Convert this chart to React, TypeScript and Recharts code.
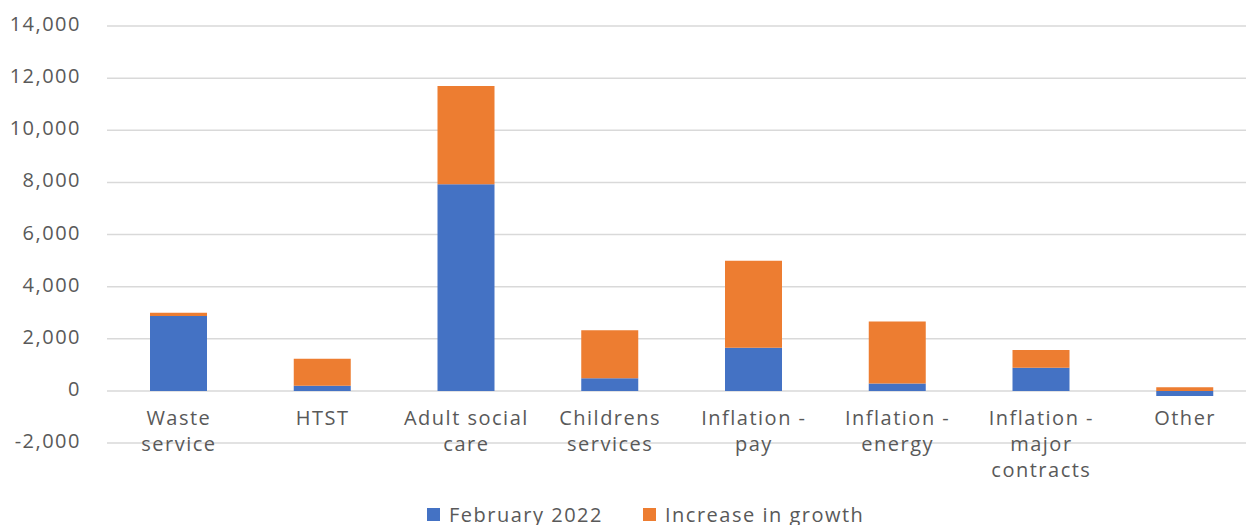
import { BarChart, Bar, XAxis, YAxis, CartesianGrid, Legend } from "recharts";

const categories = [
  "Waste service",
  "HTST",
  "Adult social care",
  "Childrens services",
  "Inflation - pay",
  "Inflation - energy",
  "Inflation - major contracts",
  "Other",
];

// how the category labels wrap under the axis
const tickLines = [
  ["Waste", "service"],
  ["HTST"],
  ["Adult social", "care"],
  ["Childrens", "services"],
  ["Inflation -", "pay"],
  ["Inflation -", "energy"],
  ["Inflation -", "major", "contracts"],
  ["Other"],
];

const february2022 = [2870, 200, 7930, 480, 1650, 280, 890, -200];
const increaseInGrowth = [130, 1030, 3770, 1850, 3340, 2380, 680, 140];

const yTicks = [-2000, 0, 2000, 4000, 6000, 8000, 10000, 12000, 14000];

const BLUE = "#4472C4";
const ORANGE = "#ED7D31";
const TEXT = "#595959";
const FONT = "'Open Sans', sans-serif";
const FS = 20;
const LS = 1.5;

const data = categories.map((name, i) => ({
  name,
  feb: february2022[i],
  growth: increaseInGrowth[i],
}));

function CategoryTick(props: any) {
  const { x, y, payload, index } = props;
  const lines = tickLines[index] ?? [String(payload.value)];
  return (
    <text
      x={x}
      y={y - 27}
      textAnchor="middle"
      fill={TEXT}
      fontSize={FS}
      fontFamily={FONT}
      letterSpacing={LS}
    >
      {lines.map((l, i) => (
        <tspan key={i} x={x} dy={i === 0 ? "0.35em" : 26}>
          {l}
        </tspan>
      ))}
    </text>
  );
}

function ValueTick(props: any) {
  const { x, y, payload } = props;
  return (
    <text
      x={x}
      y={y - 2}
      dy="0.35em"
      textAnchor="end"
      fill={TEXT}
      fontSize={FS}
      fontFamily={FONT}
      letterSpacing={LS}
    >
      {Number(payload.value).toLocaleString("en-US")}
    </text>
  );
}

function LegendBox() {
  const item = (color: string, label: string, gap: number) => (
    <span style={{ display: "inline-flex", alignItems: "center", marginRight: gap }}>
      <span
        style={{
          width: 13,
          height: 13,
          background: color,
          display: "inline-block",
          marginRight: 9,
        }}
      />
      <span style={{ color: TEXT, fontSize: FS, fontFamily: FONT, letterSpacing: LS }}>
        {label}
      </span>
    </span>
  );
  return (
    <div style={{ height: 24, display: "flex", alignItems: "center", whiteSpace: "nowrap" }}>
      {item(BLUE, "February 2022", 40)}
      {item(ORANGE, "Increase in growth", 0)}
    </div>
  );
}

export default function App() {
  return (
    <div
      style={{
        position: "absolute",
        left: 0,
        top: 0,
        width: 1246,
        height: 525,
        overflow: "hidden",
        background: "#fff",
      }}
    >
      <BarChart
        width={1257}
        height={530}
        data={data}
        stackOffset="sign"
        margin={{ top: 26, right: 0, left: 0, bottom: 4 }}
        barCategoryGap={0}
      >
        <CartesianGrid vertical={false} stroke="#d9d9d9" strokeWidth={1.5} />
        <XAxis
          dataKey="name"
          axisLine={false}
          tickLine={false}
          tickSize={0}
          tick={<CategoryTick />}
          interval={0}
          height={59}
        />
        <YAxis
          width={107}
          domain={[-2000, 14000]}
          ticks={yTicks}
          axisLine={false}
          tickLine={false}
          tickSize={0}
          tickMargin={26}
          tick={<ValueTick />}
        />
        <Legend
          verticalAlign="bottom"
          content={<LegendBox />}
          wrapperStyle={{ left: 427, width: 560 }}
        />
        <Bar dataKey="feb" stackId="a" fill={BLUE} barSize={57} isAnimationActive={false} />
        <Bar dataKey="growth" stackId="a" fill={ORANGE} barSize={57} isAnimationActive={false} />
      </BarChart>
    </div>
  );
}
